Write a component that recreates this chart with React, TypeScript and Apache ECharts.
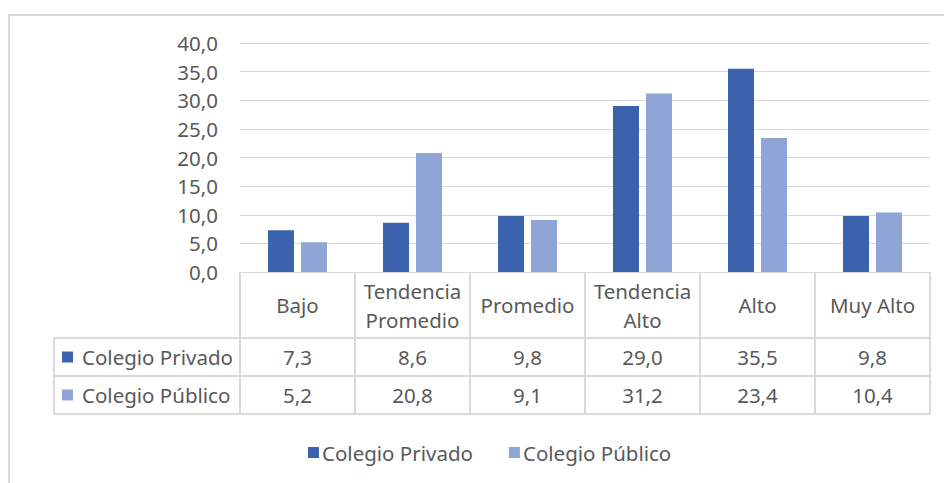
import React, { useEffect, useRef } from "react";
import * as echarts from "echarts";

const categories = ["Bajo", "Tendencia\nPromedio", "Promedio", "Tendencia\nAlto", "Alto", "Muy Alto"];
const seriesNames = ["Colegio Privado", "Colegio Público"];
const privado = [7.3, 8.6, 9.8, 29.0, 35.5, 9.8];
const publico = [5.2, 20.8, 9.1, 31.2, 23.4, 10.4];
const colors = ["#3A62AD", "#8FA5D6"];

const FONT = "Noto Sans";
const FS = 20.5;
const TXT = "#595959";
const LINE = "#d9d9d9";
const fmt = (v: number) => v.toFixed(1).replace(".", ",");

export default function App() {
  const ref = useRef<HTMLDivElement>(null);
  useEffect(() => {
    const chart = echarts.init(ref.current!, undefined, { renderer: "svg" });
    const gridLeft = 240, gridRight = 930, gridTop = 43, gridBottom = 272;
    chart.setOption({
      animation: false,
      textStyle: { fontFamily: FONT },
      grid: { left: gridLeft, right: 944 - gridRight, top: gridTop, bottom: 483 - gridBottom, containLabel: false },
      legend: {
        left: 303, top: 437, itemWidth: 11, itemHeight: 11, itemGap: 36,
        icon: "rect",
        textStyle: { fontFamily: FONT, fontSize: FS, color: TXT, padding: [0, 0, 0, -2] },
        data: seriesNames,
      },
      xAxis: {
        type: "category", data: categories,
        axisLine: { show: true, lineStyle: { color: LINE, width: 1 } },
        axisTick: { show: false }, axisLabel: { show: false },
      },
      yAxis: {
        type: "value", min: 0, max: 40, interval: 5,
        axisLine: { show: false }, axisTick: { show: false },
        splitLine: { lineStyle: { color: LINE, width: 1 } },
        axisLabel: { formatter: (v: number) => fmt(v), fontFamily: FONT, fontSize: FS, color: TXT, margin: 22 },
      },
      series: [
        { name: seriesNames[0], type: "bar", data: privado, barWidth: 26, barGap: "27%", itemStyle: { color: colors[0] } },
        { name: seriesNames[1], type: "bar", data: publico, barWidth: 26, barGap: "27%", itemStyle: { color: colors[1] } },
      ],
    });

    const r0 = gridBottom, r1 = 338, r2 = 376, r3 = 414;
    const tableLeft = 54;
    const catW = (gridRight - gridLeft) / categories.length;
    const g: any[] = [];
    const line = (x1: number, y1: number, x2: number, y2: number) =>
      g.push({ type: "line", shape: { x1, y1, x2, y2 }, style: { stroke: LINE, lineWidth: 2 }, silent: true });
    g.push({ type: "rect", shape: { x: 9, y: 15, width: 1200, height: 1000 }, style: { fill: "none", stroke: LINE, lineWidth: 2 }, silent: true });
    for (let i = 0; i <= categories.length; i++) {
      const x = gridLeft + i * catW;
      line(x, r0, x, r3);
    }
    line(tableLeft, r1, gridRight, r1);
    line(tableLeft, r2, gridRight, r2);
    line(tableLeft, r3, gridRight, r3);
    line(tableLeft, r1, tableLeft, r3);
    categories.forEach((c, i) => {
      const cx = chart.convertToPixel({ xAxisIndex: 0 }, i) as number;
      g.push({ type: "text", x: cx, y: (r0 + r1) / 2, style: { text: c, fontFamily: FONT, fontSize: FS, fill: TXT, align: "center", verticalAlign: "middle", lineHeight: 29 } });
    });
    const rows = [privado, publico];
    rows.forEach((row, ri) => {
      const cy = ri === 0 ? (r1 + r2) / 2 : (r2 + r3) / 2;
      g.push({ type: "rect", shape: { x: 62, y: cy - 5.5, width: 11, height: 11 }, style: { fill: colors[ri] } });
      g.push({ type: "text", x: 82, y: cy, style: { text: seriesNames[ri], fontFamily: FONT, fontSize: FS, fill: TXT, align: "left", verticalAlign: "middle" } });
      row.forEach((v, i) => {
        const cx = chart.convertToPixel({ xAxisIndex: 0 }, i) as number;
        g.push({ type: "text", x: cx, y: cy, style: { text: fmt(v), fontFamily: FONT, fontSize: FS, fill: TXT, align: "center", verticalAlign: "middle" } });
      });
    });
    chart.setOption({ graphic: { elements: g } });
    return () => chart.dispose();
  }, []);
  return <div ref={ref} style={{ position: "fixed", left: 0, top: 0, width: 944, height: 483, background: "#fff" }} />;
}
